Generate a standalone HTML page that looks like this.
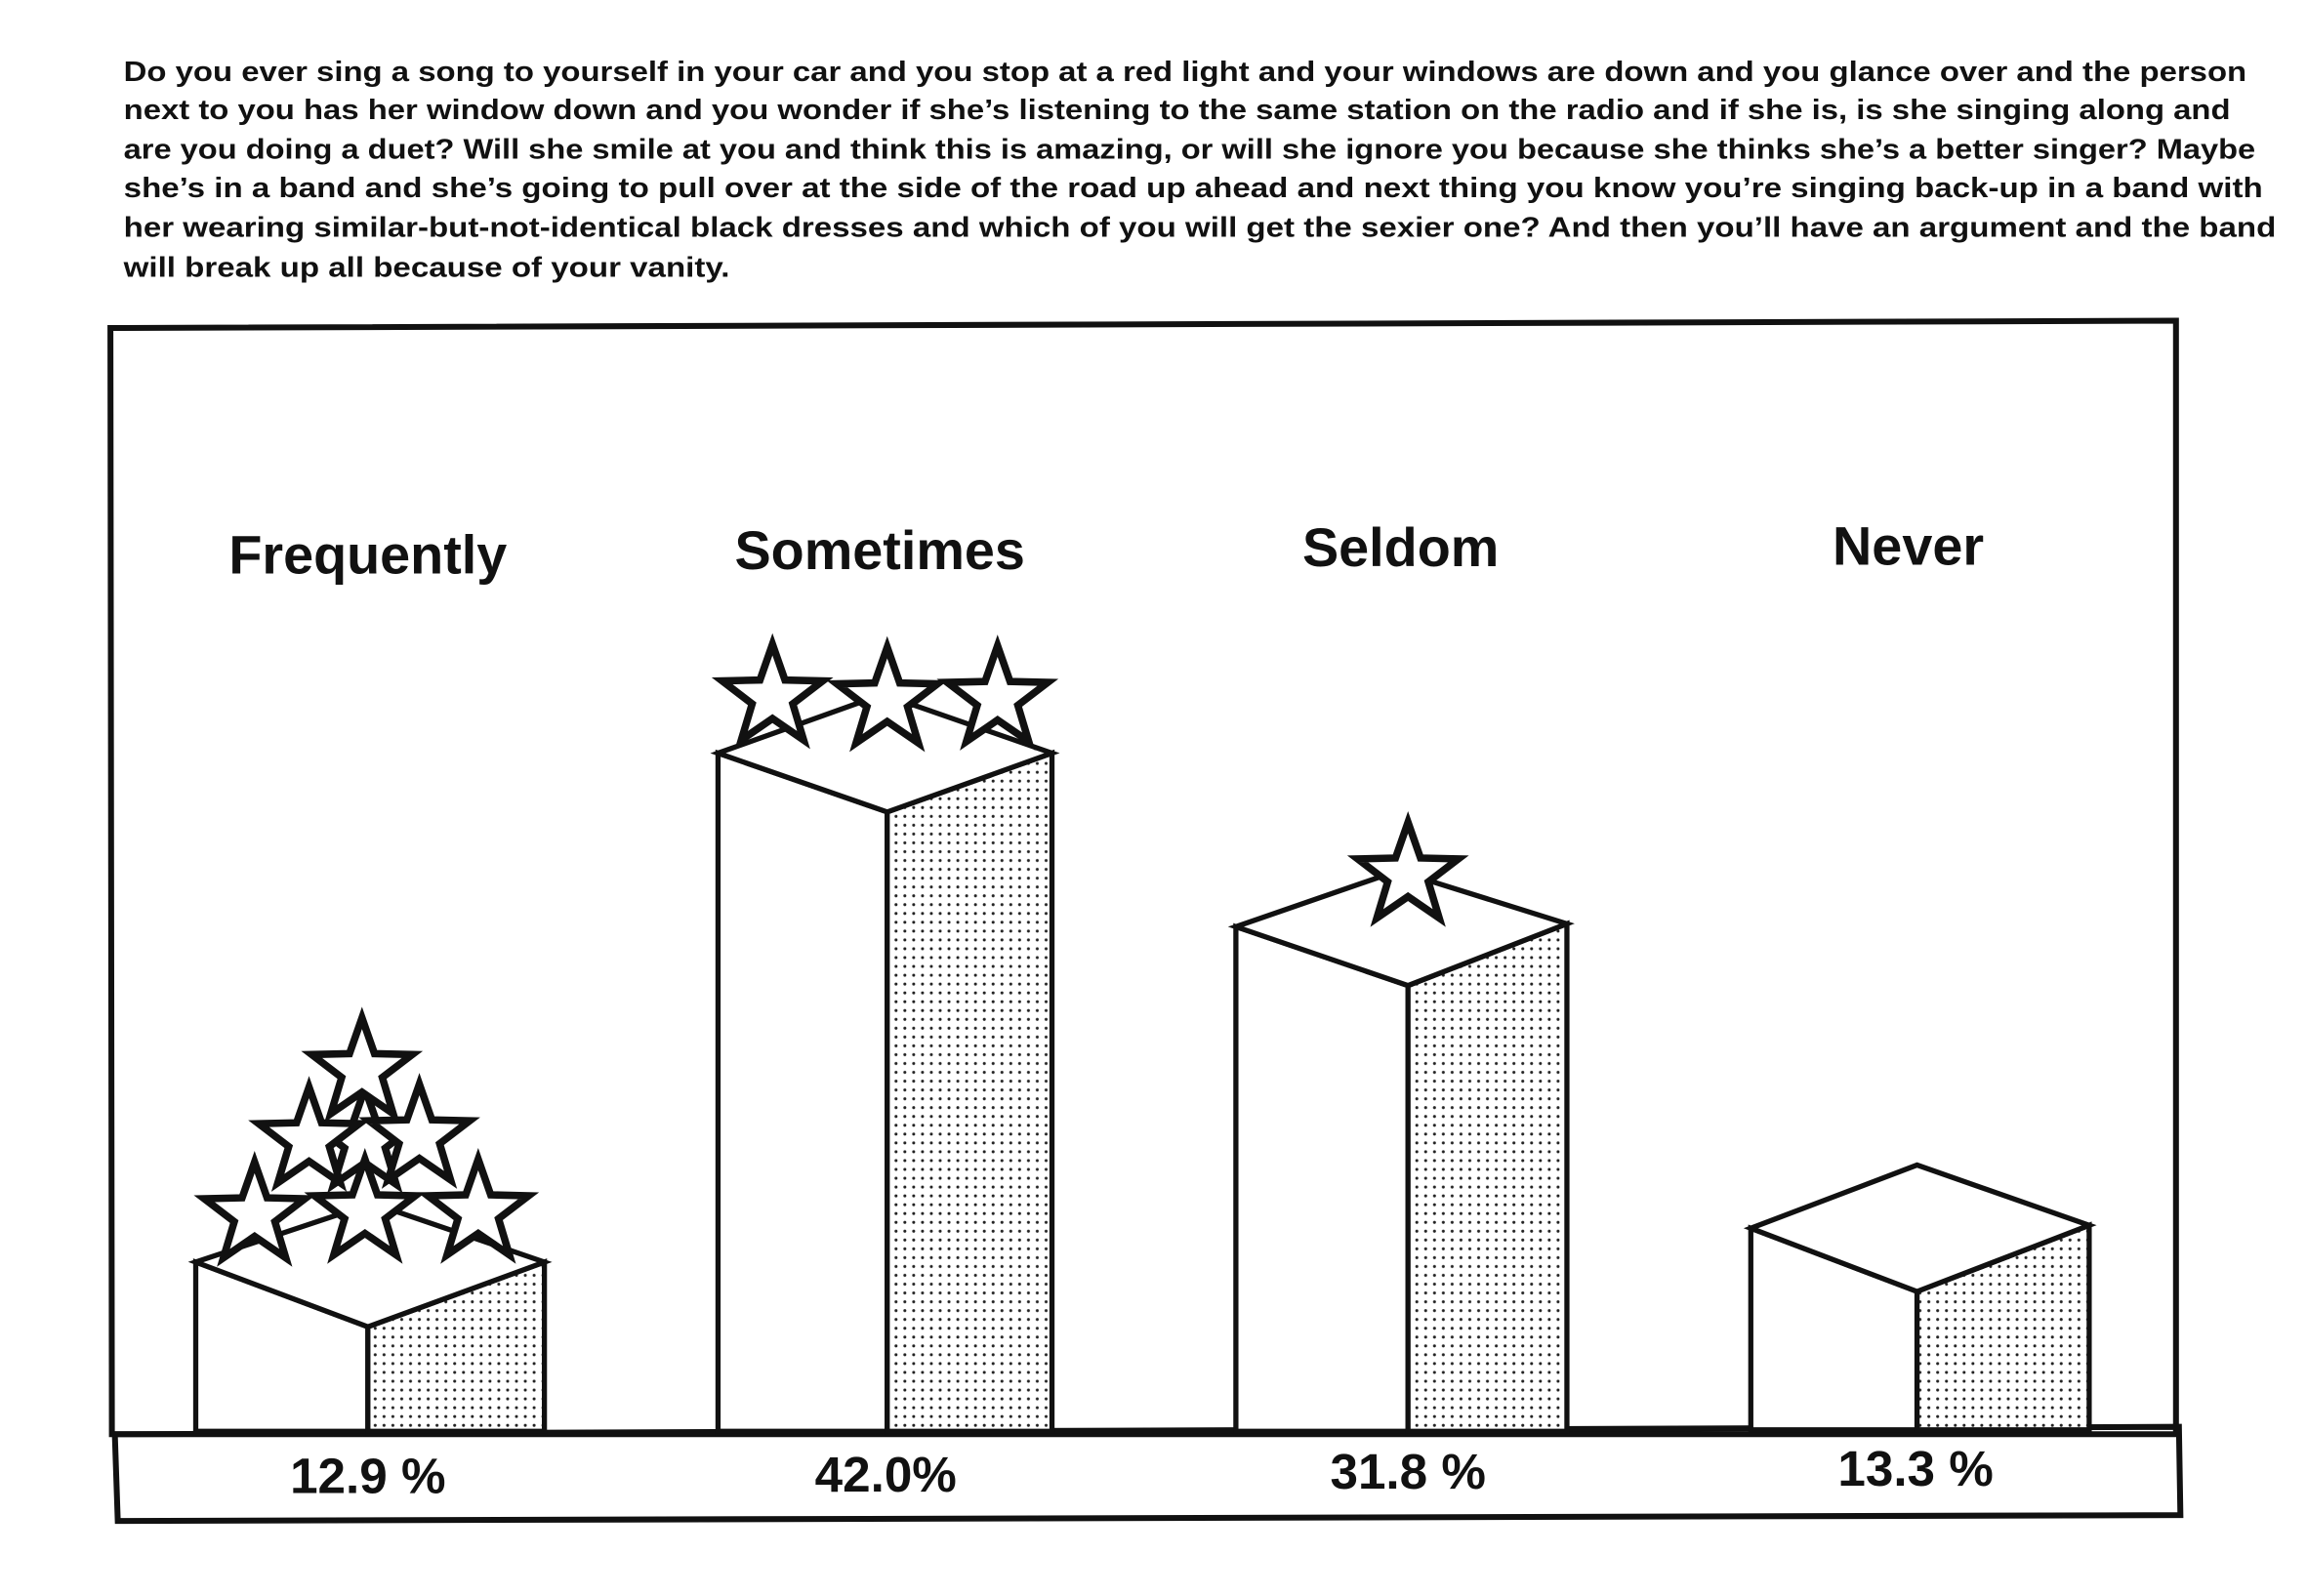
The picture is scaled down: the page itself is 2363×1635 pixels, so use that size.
<!DOCTYPE html>
<html><head><meta charset="utf-8"><style>
html,body{margin:0;padding:0;background:#fff;}
svg{display:block;}
</style></head><body>
<svg width="2363" height="1635" viewBox="0 0 1568 1085" xmlns="http://www.w3.org/2000/svg">
<defs>
<pattern id="dots" width="6" height="6" patternUnits="userSpaceOnUse">
<rect width="6" height="6" fill="#fff"/><circle cx="3" cy="3" r="1" fill="#222"/>
</pattern>
<g id="star"><polygon points="0,-36 8.5,-11.7 34.2,-11.1 13.8,4.5 21.2,29.1 0,14.5 -21.2,29.1 -13.8,4.5 -34.2,-11.1 -8.5,-11.7" fill="#fff" stroke="#111" stroke-width="5" stroke-linejoin="miter"/></g>
</defs>
<rect width="1568" height="1085" fill="#fff"/>
<g font-family="Liberation Sans, sans-serif" font-weight="bold" font-size="19" fill="#111">
<text x="84" y="55" textLength="1443" lengthAdjust="spacingAndGlyphs">Do you ever sing a song to yourself in your car and you stop at a red light and your windows are down and you glance over and the person</text>
<text x="84" y="81" textLength="1432" lengthAdjust="spacingAndGlyphs">next to you has her window down and you wonder if she’s listening to the same station on the radio and if she is, is she singing along and</text>
<text x="84" y="108" textLength="1449" lengthAdjust="spacingAndGlyphs">are you doing a duet? Will she smile at you and think this is amazing, or will she ignore you because she thinks she’s a better singer? Maybe</text>
<text x="84" y="134" textLength="1454" lengthAdjust="spacingAndGlyphs">she’s in a band and she’s going to pull over at the side of the road up ahead and next thing you know you’re singing back-up in a band with</text>
<text x="84" y="161" textLength="1463" lengthAdjust="spacingAndGlyphs">her wearing similar-but-not-identical black dresses and which of you will get the sexier one? And then you’ll have an argument and the band</text>
<text x="84" y="188" textLength="412" lengthAdjust="spacingAndGlyphs">will break up all because of your vanity.</text>
</g>
<g fill="none" stroke="#111" stroke-width="4">
<polygon points="75,223 1479,218 1479,975 76,975"/>
<polygon points="78,975 1481,970 1482,1030 80,1034"/>
</g>
<g font-family="Liberation Sans, sans-serif" font-weight="bold" font-size="37" fill="#111" text-anchor="middle">
<text x="250" y="390">Frequently</text>
<text x="598" y="387">Sometimes</text>
<text x="952" y="385">Seldom</text>
<text x="1297" y="384">Never</text>
</g>
<g font-family="Liberation Sans, sans-serif" font-weight="bold" font-size="34" fill="#111" text-anchor="middle">
<text x="250" y="1015">12.9 %</text>
<text x="602" y="1014">42.0%</text>
<text x="957" y="1012">31.8 %</text>
<text x="1302" y="1010">13.3 %</text>
</g>
<g stroke="#111" stroke-width="3.5" stroke-linejoin="miter">
<!-- Frequently -->
<polygon points="133,858 250,902 250,973 133,973" fill="#fff"/>
<polygon points="250,902 370,858 370,973 250,973" fill="url(#dots)"/>
<polygon points="133,858 253,818 370,858 250,902" fill="#fff"/>
<!-- Sometimes -->
<polygon points="488,512 603,552 603,973 488,973" fill="#fff"/>
<polygon points="603,552 715,512 715,973 603,973" fill="url(#dots)"/>
<polygon points="488,512 600,472 715,512 603,552" fill="#fff"/>
<!-- Seldom -->
<polygon points="840,630 957,670 957,973 840,973" fill="#fff"/>
<polygon points="957,670 1065,628 1065,973 957,973" fill="url(#dots)"/>
<polygon points="840,630 950,592 1065,628 957,670" fill="#fff"/>
<!-- Never -->
<polygon points="1190,835 1303,878 1303,972 1190,972" fill="#fff"/>
<polygon points="1303,878 1420,833 1420,972 1303,972" fill="url(#dots)"/>
<polygon points="1190,835 1303,792 1420,833 1303,878" fill="#fff"/>
</g>
<use href="#star" x="248" y="776"/>
<use href="#star" x="210" y="775"/>
<use href="#star" x="285" y="773"/>
<use href="#star" x="246" y="728"/>
<use href="#star" x="173" y="826"/>
<use href="#star" x="248" y="824"/>
<use href="#star" x="325" y="824"/>
<use href="#star" x="525" y="474"/>
<use href="#star" x="603" y="476"/>
<use href="#star" x="678" y="475"/>
<use href="#star" x="957" y="595"/>
</svg>
</body></html>
